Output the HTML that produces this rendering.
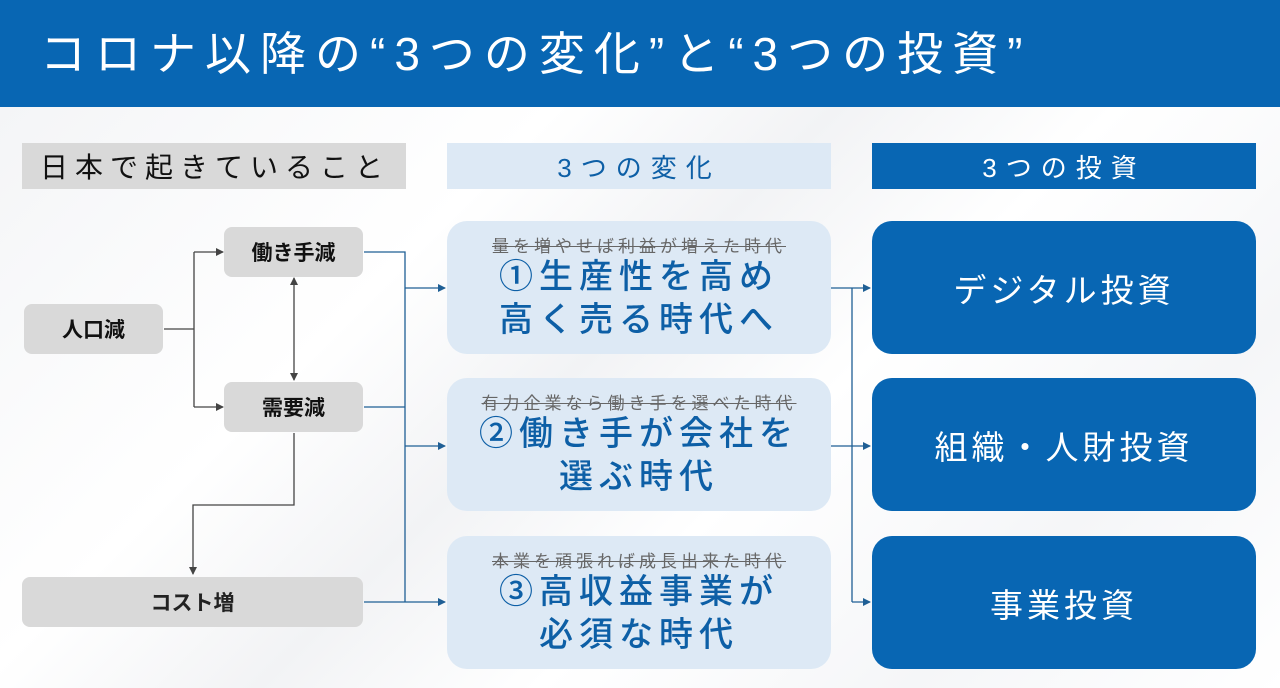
<!DOCTYPE html>
<html><head><meta charset="utf-8"><style>
*{margin:0;padding:0;box-sizing:border-box}
body{width:1280px;height:688px;position:relative;overflow:hidden;background:#fff;font-family:"Liberation Sans","Noto Sans CJK JP",sans-serif}
.a{position:absolute;display:flex;align-items:center;justify-content:center;text-align:center}
.hdr{left:0;top:0;width:1280px;height:107px;background:#0866b3;color:#fff;font-size:46px;justify-content:flex-start;padding-left:40px;letter-spacing:9px;padding-bottom:6px}
.g{background:#d9d9d9;border-radius:8px;font-size:21px;color:#111;font-weight:bold}
.m{background:#dde9f5;border-radius:20px;flex-direction:column;color:#0d5fa6;font-size:34px;letter-spacing:6px;line-height:43px;font-weight:500;padding-top:2px}
.m s{font-size:17px;color:#666;letter-spacing:4px;line-height:22px;font-weight:normal;margin-bottom:-2px}
.r{background:#0866b3;border-radius:20px;color:#fff;font-size:33px;letter-spacing:4px}
</style></head><body>
<div style="position:absolute;left:0;top:107px;width:1280px;height:581px;background:linear-gradient(135deg,#f4f5f7 0%,#fff 30%,#f2f3f5 45%,#fff 60%,#f5f6f8 80%,#fff 100%)"></div>
<div class="a hdr">コロナ以降の“3つの変化”と“3つの投資”</div>
<div class="a" style="left:22px;top:143px;width:384px;height:46px;background:#d9d9d9;font-size:28px;letter-spacing:7px;color:#111;justify-content:flex-start;padding-left:18px">日本で起きていること</div>
<div class="a" style="left:447px;top:143px;width:384px;height:46px;background:#dde9f5;font-size:26px;letter-spacing:9px;color:#0d5fa6">3つの変化</div>
<div class="a" style="left:872px;top:143px;width:384px;height:46px;background:#0866b3;font-size:26px;letter-spacing:9px;color:#fff">3つの投資</div>

<div class="a g" style="left:24px;top:304px;width:139px;height:50px">人口減</div>
<div class="a g" style="left:224px;top:227px;width:139px;height:50px">働き手減</div>
<div class="a g" style="left:224px;top:382px;width:139px;height:50px">需要減</div>
<div class="a g" style="left:22px;top:577px;width:341px;height:50px;color:#222">コスト増</div>

<div class="a m" style="left:447px;top:221px;width:384px;height:133px"><s>量を増やせば利益が増えた時代</s>①生産性を高め<br>高く売る時代へ</div>
<div class="a m" style="left:447px;top:378px;width:384px;height:133px"><s>有力企業なら働き手を選べた時代</s>②働き手が会社を<br>選ぶ時代</div>
<div class="a m" style="left:447px;top:536px;width:384px;height:133px"><s>本業を頑張れば成長出来た時代</s>③高収益事業が<br>必須な時代</div>

<div class="a r" style="left:872px;top:221px;width:384px;height:133px">デジタル投資</div>
<div class="a r" style="left:872px;top:378px;width:384px;height:133px">組織・人財投資</div>
<div class="a r" style="left:872px;top:536px;width:384px;height:133px">事業投資</div>

<svg style="position:absolute;left:0;top:0" width="1280" height="688">
<defs>
<marker id="k" markerWidth="8" markerHeight="8" refX="7" refY="4" orient="auto-start-reverse" markerUnits="userSpaceOnUse"><path d="M0,0L8,4L0,8z" fill="#444"/></marker>
<marker id="b" markerWidth="8" markerHeight="8" refX="7" refY="4" orient="auto" markerUnits="userSpaceOnUse"><path d="M0,0L8,4L0,8z" fill="#1f5f95"/></marker>
</defs>
<g stroke="#444" stroke-width="1.3" fill="none">
<path d="M164,329H194"/>
<path d="M194,252V407"/>
<path d="M194,252H223" marker-end="url(#k)"/>
<path d="M194,407H223" marker-end="url(#k)"/>
<path d="M294,278V380" marker-end="url(#k)" marker-start="url(#k)"/>
<path d="M294,433V505H193V574" marker-end="url(#k)"/>
</g>
<g stroke="#1f5f95" stroke-width="1.3" fill="none">
<path d="M364,252H405V602"/>
<path d="M364,407H405"/>
<path d="M364,602H405"/>
<path d="M405,288H445" marker-end="url(#b)"/>
<path d="M405,446H445" marker-end="url(#b)"/>
<path d="M405,602H445" marker-end="url(#b)"/>
<path d="M831,288H852"/>
<path d="M852,288V602"/>
<path d="M852,288H870" marker-end="url(#b)"/>
<path d="M831,446H870" marker-end="url(#b)"/>
<path d="M852,602H870" marker-end="url(#b)"/>
</g>
</svg>
</body></html>
